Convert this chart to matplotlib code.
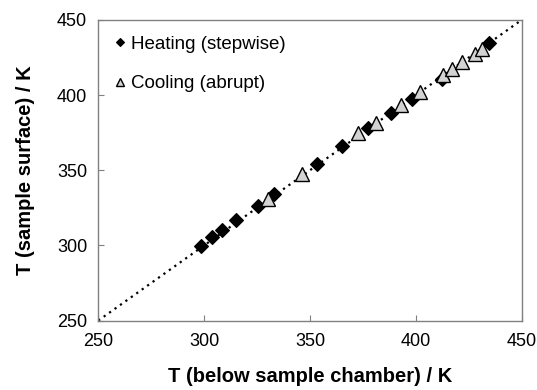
import matplotlib
matplotlib.use("Agg")
import matplotlib.pyplot as plt

plt.rcParams['font.family'] = ['Liberation Sans', 'DejaVu Sans']

# Heating (stepwise) measurements
heat_x = [298.3, 303.9, 308.3, 314.9, 325.6, 333.0, 353.1, 365.0, 377.6, 388.3, 398.3, 412.2, 434.7]
heat_y = [299.9, 305.4, 310.3, 317.0, 326.5, 334.5, 354.0, 366.4, 378.4, 387.9, 397.4, 410.8, 434.9]

# Cooling (abrupt) measurements
cool_x = [330.3, 346.1, 372.8, 381.0, 392.8, 402.0, 412.7, 416.9, 422.0, 428.0, 431.4]
cool_y = [330.9, 347.6, 374.6, 381.5, 393.5, 402.3, 413.4, 417.4, 422.3, 427.4, 430.5]

ticks = [250, 300, 350, 400, 450]

fig = plt.figure(figsize=(5.37, 3.90), dpi=100)
ax = fig.add_axes([0.183, 0.178, 0.7885, 0.771])

ax.plot([250, 450], [250, 450], linestyle=(0, (1, 2)), color='black', linewidth=1.6, zorder=1)
ax.plot(heat_x, heat_y, linestyle='none', marker='D', markersize=7.5,
        markerfacecolor='black', markeredgecolor='black', markeredgewidth=0.8,
        label='Heating (stepwise)', zorder=2)
ax.plot(cool_x, cool_y, linestyle='none', marker='^', markersize=10,
        markerfacecolor='#d3d3d3', markeredgecolor='black', markeredgewidth=1.0,
        label='Cooling (abrupt)', zorder=3)

ax.set_xlim(250, 450)
ax.set_ylim(250, 450)
ax.set_xticks(ticks)
ax.set_yticks(ticks)
ax.tick_params(direction='in', length=4, width=0.8, color='#808080', labelsize=13, pad=8)
ax.tick_params(axis='x', pad=9)
for sp in ax.spines.values():
    sp.set_color('#808080')
    sp.set_linewidth(1.0)

ax.set_xlabel('T (below sample chamber) / K', fontsize=14.5, fontweight='bold', labelpad=12)
ax.set_ylabel('T (sample surface) / K', fontsize=14.5, fontweight='bold', labelpad=16)

leg = ax.legend(loc='upper left', bbox_to_anchor=(0.03, 0.948), frameon=False,
                fontsize=13.5, handletextpad=0.05, handlelength=1.0, labelspacing=1.2,
                borderaxespad=0, borderpad=0, markerscale=0.6)

fig.savefig('out.png', dpi=100)
